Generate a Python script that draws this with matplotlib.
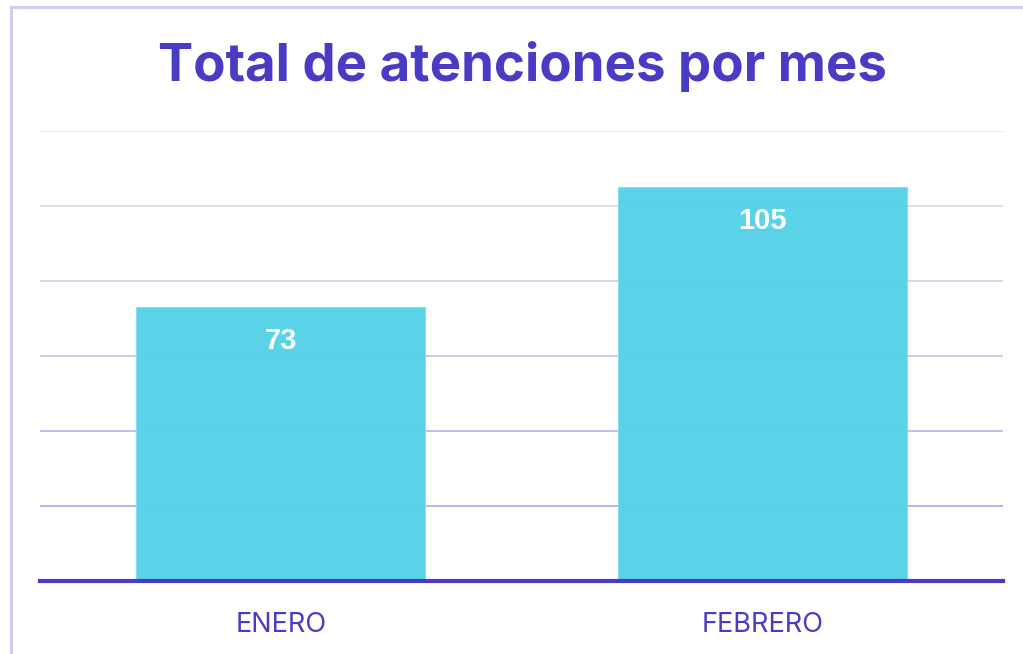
import matplotlib.pyplot as plt
from matplotlib.patches import Rectangle

months = ['ENERO', 'FEBRERO']
totals = [73, 105]
y_ticks = [20, 40, 60, 80, 100, 120]

purple = '#4a3bc4'
bar_color = '#55d2e8'

fig = plt.figure(figsize=(10.23, 6.54), dpi=100)
fig.patch.set_facecolor('white')

# light frame, only top and left are visible in the crop
fig.add_artist(Rectangle((10.5 / 1023, -0.1), 1.2, (654 - 6.5) / 654 + 0.1,
                         transform=fig.transFigure, fill=False,
                         edgecolor='#cec8f2', linewidth=2))

ax = fig.add_axes([40 / 1023, 73 / 654, 963 / 1023, 450 / 654])
x = range(len(months))
bars = ax.bar(x, totals, width=0.6, color=bar_color, alpha=0.97,
              edgecolor='#7fdff0', linewidth=0.8, zorder=2)

ax.set_xlim(-0.5, 1.5)
ax.set_ylim(0, 120)
ax.set_yticks(y_ticks)
ax.tick_params(axis='y', left=False, labelleft=False)
ax.tick_params(axis='x', bottom=False, pad=19)
ax.set_xticks(list(x))
ax.set_xticklabels(months, color=purple, fontsize=19.5, family='Inter')

# gridlines drift from grey to lavender towards the bottom
grid_colors = ['#b4afe4', '#bdb9e6', '#c9c6e7', '#d3d1e6', '#dcdbe6', '#e3e3e8']
for yv, c in zip(y_ticks, grid_colors):
    ax.axhline(yv, color=c, linewidth=1.3, zorder=1)

for side in ['top', 'right', 'left']:
    ax.spines[side].set_visible(False)
ax.spines['bottom'].set_color(purple)
ax.spines['bottom'].set_linewidth(3)
ax.spines['bottom'].set_zorder(3)

for b, v in zip(bars, totals):
    ax.text(b.get_x() + b.get_width() / 2, v - 9.0, str(v), ha='center',
            va='center', color='white', fontsize=21, fontweight='bold',
            family='Liberation Sans', zorder=4)

fig.text(522 / 1023, 1 - 67 / 654, 'Total de atenciones por mes', ha='center',
         va='center', color=purple, fontsize=38, fontweight='bold', family='Inter')

fig.savefig('out.png', dpi=100)
